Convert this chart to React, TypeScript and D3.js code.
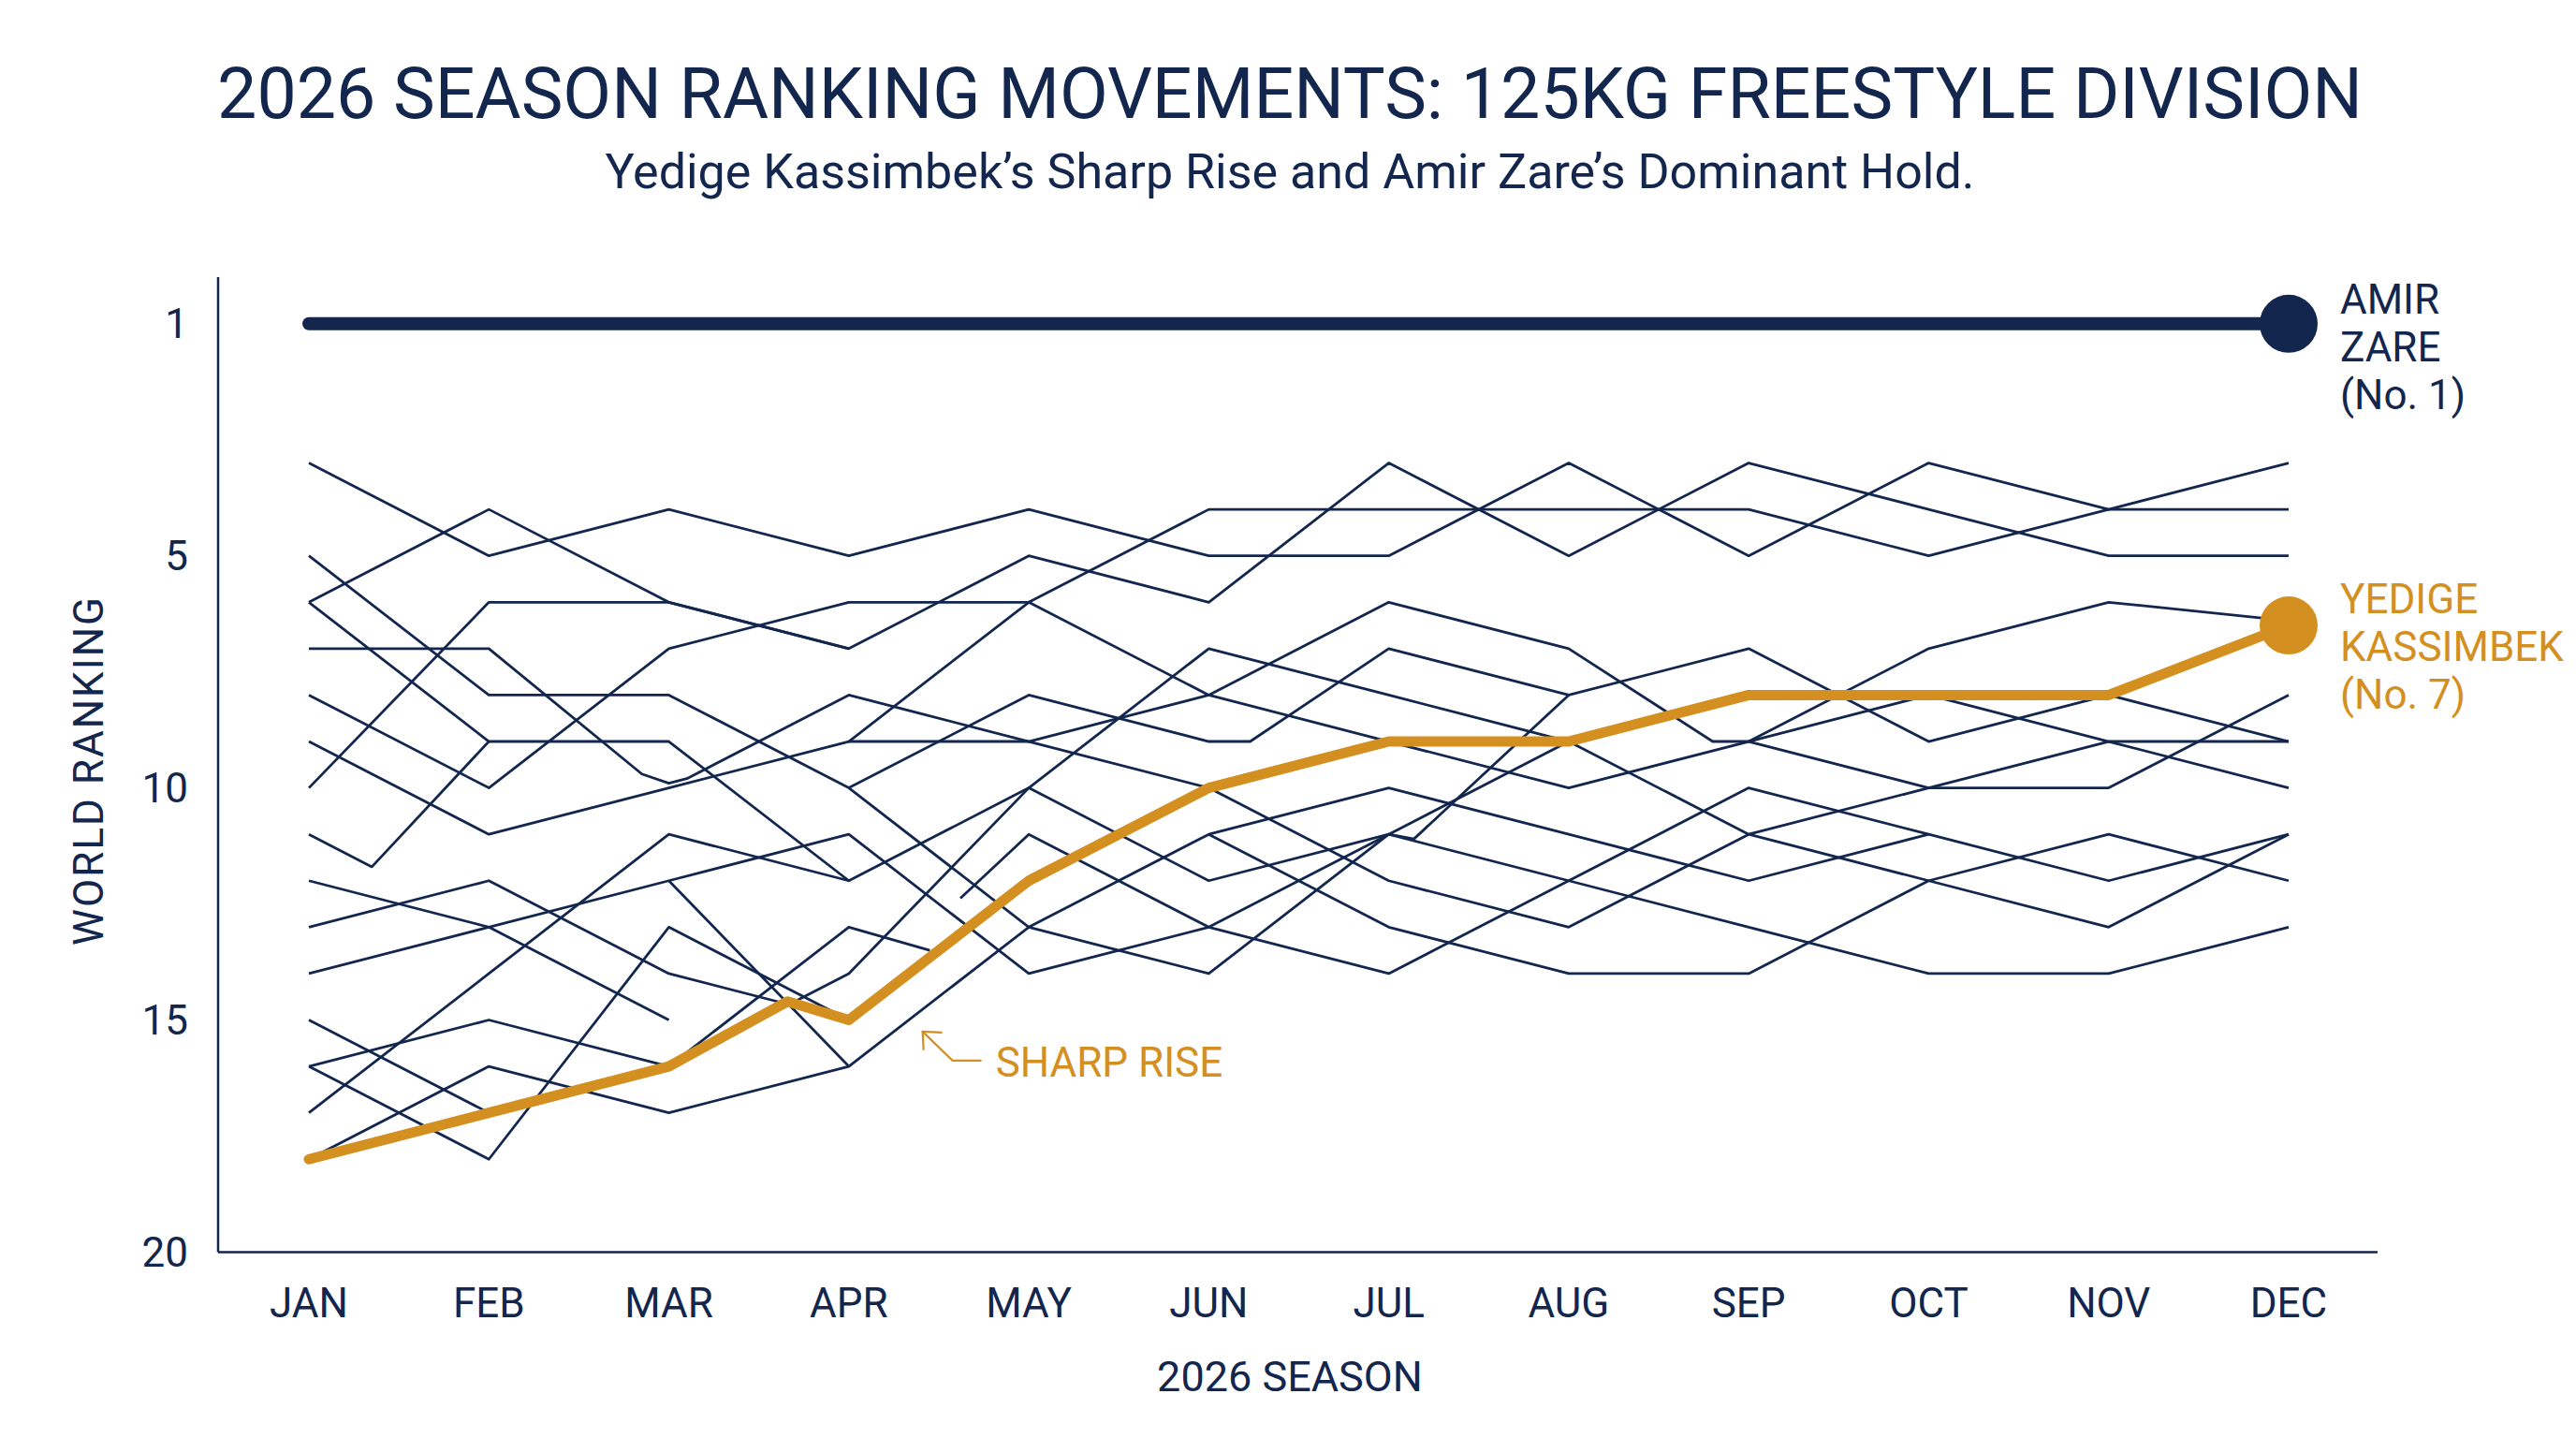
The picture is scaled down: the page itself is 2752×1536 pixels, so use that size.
import React, { useEffect } from "react";
import * as d3 from "d3";

// ---------- data ----------
const MONTHS = ["JAN", "FEB", "MAR", "APR", "MAY", "JUN", "JUL", "AUG", "SEP", "OCT", "NOV", "DEC"];
// rank slots on the axis (top slot is labelled "1")
const RANK_TICK_VALUES = [0, 5, 10, 15, 20];
const RANK_TICK_LABELS = ["1", "5", "10", "15", "20"];

// highlighted wrestlers: [monthIndex, rankSlot]
const AMIR_ZARE: [number, number][] = MONTHS.map((_, i) => [i, 0]);
const YEDIGE_KASSIMBEK: [number, number][] = [
  [0, 18], [1, 17], [2, 16], [2.66, 14.6], [3, 15], [4, 12], [5, 10], [6, 9], [7, 9], [8, 8], [9, 8], [10, 8], [11, 6.5],
];

// rest of the field
const FIELD_A: [number, number][] = [[0, 3], [1, 5], [2, 4], [3, 5], [4, 4], [5, 5], [6, 5], [7, 3], [8, 5], [9, 3], [10, 4], [11, 4]];
const FIELD_B: [number, number][] = [[0, 6], [1, 4], [2, 6], [3, 7], [4, 5], [5, 6], [6, 3], [7, 5], [8, 3], [9, 4], [10, 5], [11, 5]];
const FIELD_C: [number, number][] = [[0, 10], [1, 6], [2, 6], [3, 7]];
const FIELD_D: [number, number][] = [[0, 8], [1, 10], [2, 7], [3, 6], [4, 6], [5, 4], [6, 4], [7, 4], [8, 4], [9, 5], [10, 4], [11, 3]];
const FIELD_E: [number, number][] = [[0, 5], [1, 8], [2, 8], [3, 10], [4, 8], [5, 9], [5.23, 9], [6, 7], [7, 8], [8, 7], [9, 9], [10, 8], [11, 9]];
const FIELD_F: [number, number][] = [[0, 6], [1, 9], [2, 9], [3, 12], [4, 10], [5, 12], [6, 11], [7, 12], [8, 13], [9, 14], [10, 14], [11, 13]];
const FIELD_G: [number, number][] = [[0, 11], [0.35, 11.7], [1, 9]];
const FIELD_H: [number, number][] = [[0, 7], [1, 7], [1.85, 9.7], [2, 9.9], [2.1, 9.8], [3, 8], [4, 9], [5, 8], [6, 6], [7, 7], [7.8, 9], [8, 9], [9, 10], [10, 10], [11, 8]];
const FIELD_I: [number, number][] = [[0, 9], [1, 11], [2, 10], [3, 9], [4, 6], [5, 8], [6, 9], [7, 10], [8, 9], [9, 8], [10, 9], [11, 10]];
const FIELD_J: [number, number][] = [[0, 17], [1, 14], [2, 11], [3, 12]];
const FIELD_K: [number, number][] = [[0, 14], [1, 13], [2, 12], [3, 11], [4, 14], [5, 13], [6, 14], [7, 12], [8, 10], [9, 11], [10, 12], [11, 11]];
const FIELD_L: [number, number][] = [[0, 12], [1, 13], [2, 15]];
const FIELD_M: [number, number][] = [[0, 13], [1, 12], [2, 14], [3, 15]];
const FIELD_N: [number, number][] = [[0, 16], [1, 18], [2, 13], [3, 15]];
const FIELD_O: [number, number][] = [[0, 16], [1, 15], [2, 16], [3, 13], [3.45, 13.5]];
const FIELD_P: [number, number][] = [[0, 15], [1, 17], [2, 16], [3, 14], [4, 10], [5, 7], [6, 8], [7, 9], [8, 11], [9, 12], [10, 13], [11, 11]];
const FIELD_Q: [number, number][] = [[0, 18], [1, 16], [2, 17], [3, 16], [4, 13], [5, 11], [6, 10], [7, 11], [8, 12], [9, 11]];
const FIELD_R: [number, number][] = [[2, 12], [3, 16]];
const FIELD_S: [number, number][] = [[3, 9], [4, 9], [5, 10], [6, 12], [7, 13], [8, 11], [9, 10], [10, 9], [11, 9]];
const FIELD_T: [number, number][] = [[3, 10], [4, 13], [5, 14], [6, 11], [7, 9]];
const FIELD_U: [number, number][] = [[3.62, 12.38], [4, 11], [5, 13], [6, 11], [6.14, 11.1], [7, 8]];
const FIELD_V: [number, number][] = [[5, 11], [6, 13], [7, 14], [8, 14], [9, 12], [10, 11], [11, 12]];
const FIELD_W: [number, number][] = [[8, 9], [9, 7], [10, 6], [11, 6.4]];

const FIELD = [
  FIELD_A, FIELD_B, FIELD_C, FIELD_D, FIELD_E, FIELD_F, FIELD_G, FIELD_H, FIELD_I, FIELD_J, FIELD_K, FIELD_L,
  FIELD_M, FIELD_N, FIELD_O, FIELD_P, FIELD_Q, FIELD_R, FIELD_S, FIELD_T, FIELD_U, FIELD_V, FIELD_W,
];

const TITLE = "2026 SEASON RANKING MOVEMENTS: 125KG FREESTYLE DIVISION";
const SUBTITLE = "Yedige Kassimbek\u2019s Sharp Rise and Amir Zare\u2019s Dominant Hold.";
const X_TITLE = "2026 SEASON";
const Y_TITLE = "WORLD RANKING";
const AMIR_LABEL = ["AMIR", "ZARE", "(No. 1)"];
const KASSIMBEK_LABEL = ["YEDIGE", "KASSIMBEK", "(No. 7)"];
const ANNOTATION = { text: "SHARP RISE", at: [3.41, 15.25] as [number, number] };

// ---------- style ----------
const W = 2752;
const H = 1536;
const NAVY = "#13264e";
const GOLD = "#d38f1f";
const FONT = "Roboto, 'Noto Sans', sans-serif";

export default function App() {
  useEffect(() => {
    document.body.style.margin = "0";
    document.body.style.background = "#ffffff";
  }, []);

  const x = d3.scaleLinear().domain([0, MONTHS.length - 1]).range([330, 2445]);
  const y = d3.scaleLinear().domain([0, 20]).range([345.8, 1337.4]);
  const line = d3
    .line<[number, number]>()
    .x((d) => x(d[0]))
    .y((d) => y(d[1]));

  const axisLeft = 233;
  const axisRight = 2540;
  const axisTop = 296;
  const axisBottom = y(20);

  const last = YEDIGE_KASSIMBEK[YEDIGE_KASSIMBEK.length - 1];
  const lastAmir = AMIR_ZARE[AMIR_ZARE.length - 1];
  const ax = x(ANNOTATION.at[0]);
  const ay = y(ANNOTATION.at[1]);

  return (
    <svg width={W} height={H} viewBox={`0 0 ${W} ${H}`} style={{ display: "block", background: "#fff" }} fontFamily={FONT}>
      <rect width={W} height={H} fill="#ffffff" />
      {/* titles */}
      <text x={1378} y={126} textAnchor="middle" fontSize={75.3} fill={NAVY}>
        {TITLE}
      </text>
      <text x={1378} y={201} textAnchor="middle" fontSize={52} fill={NAVY}>
        {SUBTITLE}
      </text>

      {/* axes */}
      <line x1={axisLeft} x2={axisLeft} y1={axisTop} y2={axisBottom} stroke={NAVY} strokeWidth={2.5} />
      <line x1={axisLeft} x2={axisRight} y1={axisBottom} y2={axisBottom} stroke={NAVY} strokeWidth={2.5} />
      {RANK_TICK_VALUES.map((v, i) => (
        <text key={"yt" + v} x={201} y={y(v)} dy="0.35em" textAnchor="end" fontSize={44} fill={NAVY}>
          {RANK_TICK_LABELS[i]}
        </text>
      ))}
      {MONTHS.map((m, i) => (
        <text key={m} x={x(i)} y={1407} textAnchor="middle" fontSize={44} fill={NAVY}>
          {m}
        </text>
      ))}
      <text x={1378} y={1486} textAnchor="middle" fontSize={45} fill={NAVY}>
        {X_TITLE}
      </text>
      <text
        transform={`translate(110, 823) rotate(-90)`}
        textAnchor="middle"
        fontSize={44}
        letterSpacing={2}
        fill={NAVY}
      >
        {Y_TITLE}
      </text>

      {/* field */}
      <g fill="none" stroke={NAVY} strokeWidth={2.8} strokeLinejoin="round" strokeLinecap="butt">
        {FIELD.map((pts, i) => (
          <path key={"f" + i} d={line(pts) || ""} />
        ))}
      </g>

      {/* Amir Zare */}
      <path d={line(AMIR_ZARE) || ""} fill="none" stroke={NAVY} strokeWidth={14} strokeLinecap="round" />
      <circle cx={x(lastAmir[0])} cy={y(lastAmir[1])} r={31} fill={NAVY} />
      {AMIR_LABEL.map((t, i) => (
        <text key={t} x={2500} y={335 + i * 51} fontSize={44} fill={NAVY}>
          {t}
        </text>
      ))}

      {/* Yedige Kassimbek */}
      <path
        d={line(YEDIGE_KASSIMBEK) || ""}
        fill="none"
        stroke={GOLD}
        strokeWidth={11}
        strokeLinecap="round"
        strokeLinejoin="round"
      />
      <circle cx={x(last[0])} cy={y(last[1])} r={31} fill={GOLD} />
      {KASSIMBEK_LABEL.map((t, i) => (
        <text key={t} x={2500} y={655 + i * 51} fontSize={44} fill={GOLD}>
          {t}
        </text>
      ))}

      {/* annotation */}
      <g fill="none" stroke={GOLD} strokeWidth={2.2} strokeLinecap="round" strokeLinejoin="round">
        <path d={`M${ax + 62},${ay + 31} L${ax + 32},${ay + 31} L${ax},${ay}`} />
        <path d={`M${ax + 20},${ay + 1} L${ax},${ay} L${ax + 1},${ay + 19}`} />
      </g>
      <text x={ax + 78} y={ay + 48} fontSize={44} fill={GOLD}>
        {ANNOTATION.text}
      </text>
    </svg>
  );
}
